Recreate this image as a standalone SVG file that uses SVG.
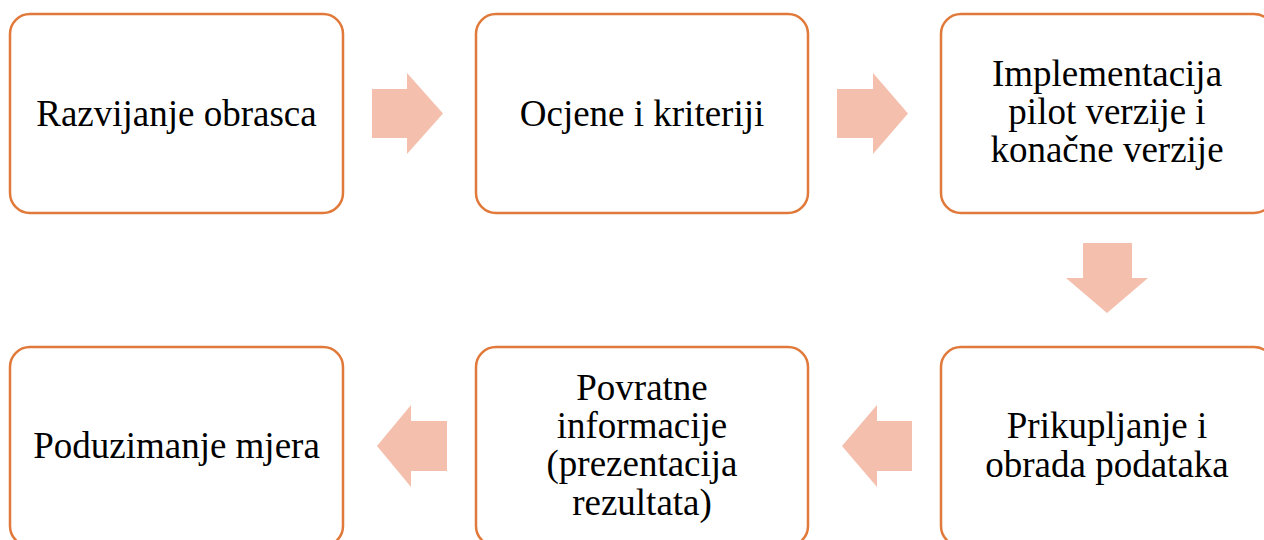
<svg xmlns="http://www.w3.org/2000/svg" width="1264" height="540" viewBox="0 0 1264 540">
<style>
.box{fill:#FFFFFF;stroke:#E0793A;stroke-width:2.5}
.arr{fill:#F4BFAC}
text{font-family:"Liberation Serif","Times New Roman",serif;font-size:37px;fill:#000000;text-anchor:middle}
</style>
<rect width="1264" height="540" fill="#FFFFFF"/>
<g id="connectors">
<polygon class="arr" points="372,89 407,89 407,73 443,113.5 407,154 407,138 372,138"/>
<polygon class="arr" points="837,89 873,89 873,73 908,113.5 873,154 873,138 837,138"/>
<polygon class="arr" points="1083,243 1132,243 1132,278 1148,278 1107,313 1066,278 1083,278"/>
<polygon class="arr" points="912,421 877,421 877,405 842,446 877,487 877,471 912,471"/>
<polygon class="arr" points="447,421 411,421 411,405 377,446 411,487 411,471 447,471"/>
</g>
<g id="node1">
<rect class="box" x="10" y="14" width="333" height="199" rx="20"/>
<text x="176.5" y="126">Razvijanje obrasca</text>
</g>
<g id="node2">
<rect class="box" x="476" y="14" width="332" height="199" rx="20"/>
<text x="642" y="126">Ocjene i kriteriji</text>
</g>
<g id="node3">
<rect class="box" x="941" y="14" width="333" height="199" rx="20"/>
<text x="1107" y="86">Implementacija</text>
<text x="1107" y="124">pilot verzije i</text>
<text x="1107" y="162">konačne verzije</text>
</g>
<g id="node4">
<rect class="box" x="941" y="347" width="333" height="199" rx="20"/>
<text x="1107" y="438">Prikupljanje i</text>
<text x="1107" y="477">obrada podataka</text>
</g>
<g id="node5">
<rect class="box" x="476" y="347" width="332" height="199" rx="20"/>
<text x="642" y="400">Povratne</text>
<text x="642" y="438">informacije</text>
<text x="642" y="476">(prezentacija</text>
<text x="642" y="515">rezultata)</text>
</g>
<g id="node6">
<rect class="box" x="10" y="347" width="333" height="199" rx="20"/>
<text x="176.5" y="458">Poduzimanje mjera</text>
</g>
</svg>
